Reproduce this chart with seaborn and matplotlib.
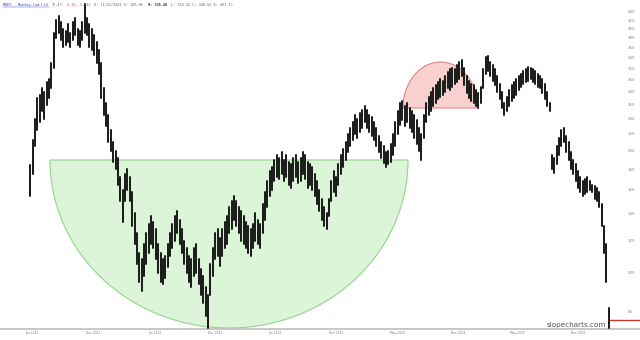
import numpy as np
import pandas as pd
import matplotlib
matplotlib.use("Agg")
import matplotlib.pyplot as plt
import matplotlib.ticker as mticker
from matplotlib.patches import Polygon
import seaborn as sns

# ---------------- data (weekly bars) ----------------
start_date = "2021-06-11"
lows = [155, 175, 205, 225, 235, 250, 240, 260, 270, 285,
        320, 380, 390, 375, 360, 365, 370, 360, 375, 385,
        365, 360, 375, 390, 385, 360, 355, 345, 330, 310,
        270, 245, 230, 210, 200, 188, 180, 165, 150, 133,
        150, 160, 150, 130, 118, 105, 95, 90, 98, 105,
        112, 118, 115, 108, 100, 95, 94, 97, 103, 110,
        115, 120, 125, 118, 112, 105, 100, 95, 92, 98,
        100, 94, 88, 84, 78, 73, 88, 98, 108, 110,
        104, 110, 115, 118, 125, 128, 135, 130, 125, 120,
        118, 115, 112, 110, 115, 120, 118, 115, 125, 135,
        145, 155, 160, 168, 172, 170, 175, 168, 172, 165,
        162, 168, 172, 166, 168, 175, 170, 162, 165, 160,
        155, 148, 142, 135, 130, 128, 138, 150, 158, 155,
        165, 175, 182, 190, 198, 205, 212, 220, 215, 222,
        228, 235, 228, 222, 218, 212, 205, 198, 192, 186,
        182, 185, 188, 195, 205, 220, 232, 238, 230, 235,
        228, 222, 215, 208, 200, 190, 215, 235, 245, 250,
        258, 262, 268, 272, 275, 280, 285, 282, 288, 292,
        295, 300, 305, 290, 278, 270, 265, 262, 258, 255,
        262, 285, 310, 315, 305, 298, 290, 280, 268, 255,
        245, 250, 258, 265, 270, 275, 282, 288, 292, 295,
        298, 300, 295, 292, 288, 285, 278, 268, 258, 250,
        180, 176, 185, 195, 205, 210, 198, 190, 180, 175,
        168, 162, 158, 155, 156, 158, 160, 158, 152, 150,
        145, 130, 112, 95, 73]
highs = [184, 212, 240, 270, 275, 285, 280, 295, 300, 330,
         390, 420, 430, 415, 400, 395, 410, 390, 415, 425,
         400, 395, 415, 460, 425, 410, 400, 385, 370, 355,
         330, 285, 262, 245, 225, 210, 200, 192, 172, 160,
         175, 180, 172, 158, 140, 125, 112, 108, 118, 125,
         132, 138, 133, 128, 118, 112, 108, 110, 118, 125,
         132, 138, 142, 135, 128, 120, 115, 110, 108, 115,
         118, 108, 102, 98, 92, 88, 105, 115, 125, 128,
         122, 128, 133, 138, 145, 150, 155, 150, 145, 142,
         138, 133, 130, 128, 132, 140, 135, 132, 148, 158,
         168, 178, 182, 190, 195, 192, 198, 190, 195, 188,
         185, 192, 195, 188, 192, 198, 195, 188, 185, 182,
         175, 168, 160, 152, 145, 140, 152, 168, 178, 172,
         185, 195, 202, 210, 220, 228, 235, 245, 240, 248,
         252, 258, 252, 245, 242, 235, 228, 218, 210, 205,
         198, 200, 208, 220, 235, 250, 262, 266, 258, 262,
         255, 250, 245, 238, 228, 220, 245, 262, 272, 280,
         285, 290, 295, 300, 298, 305, 312, 318, 320, 318,
         325, 332, 335, 320, 305, 298, 292, 290, 282, 278,
         288, 318, 340, 342, 332, 325, 318, 305, 292, 280,
         262, 272, 282, 290, 295, 300, 305, 310, 315, 318,
         322, 320, 318, 315, 310, 305, 300, 292, 280, 262,
         195, 192, 205, 215, 225, 228, 218, 210, 198, 190,
         185, 178, 172, 168, 170, 172, 168, 165, 164, 162,
         158, 148, 130, 118, 82]
last_price = 76.5
y_ticks = [80, 100, 120, 140, 160, 180, 200, 220, 240, 260, 280, 300,
           320, 340, 360, 380, 400, 420, 440]
x_tick_dates = ["2021-06-17", "2021-12-15", "2022-06-13", "2022-12-08",
                "2023-06-02", "2023-12-01", "2024-05-30", "2024-11-26",
                "2025-05-19", "2025-11-16"]
x_tick_labels = ["Jun 2021", "Dec 2021", "Jun 2022", "Dec 2022", "Jun 2023",
                 "Dec 2023", "May 2024", "Nov 2024", "May 2025", "Nov 2025"]

# ---------------- styling ----------------
sns.set_theme(style="white")
plt.rcParams["font.family"] = ["DejaVu Sans"]

W, H = 640, 340
fig = plt.figure(figsize=(W / 100, H / 100), dpi=100)
ax_bottom_px = 329
ax = fig.add_axes([0, (H - ax_bottom_px) / H, 1, ax_bottom_px / H])

dates = pd.date_range(start_date, periods=len(lows), freq="7D")
n = len(lows)
df = pd.DataFrame({
    "date": np.repeat(dates.values, 2),
    "price": np.ravel(np.column_stack([lows, highs])),
    "bar": np.repeat(np.arange(n), 2),
})

ax.set_yscale("log")
ax.set_xlim(pd.Timestamp("2021-03-14"), pd.Timestamp("2026-05-16"))
ax.set_ylim(72.6, 471)


# half-ellipses (annotations, placed in axes coordinates from pixel geometry)
def half_ellipse(cx, cy, rx, ry, dome):
    t = np.linspace(0, np.pi, 140)
    sign = -1 if dome else 1
    px = cx + rx * np.cos(t)
    py = cy + sign * ry * np.sin(t)
    return np.column_stack([px / W, (ax_bottom_px - py) / ax_bottom_px])


# green bowl: chord y=160, x 50..408, bottom y~328
ax.add_patch(Polygon(half_ellipse(229, 160, 179, 168, dome=False), closed=True,
                     transform=ax.transAxes, facecolor="#dcf5d8",
                     edgecolor="#92d58c", lw=0.8, zorder=1))
# red dome: chord y=108, x 403..478, top y~62
ax.add_patch(Polygon(half_ellipse(440.5, 108, 37.5, 46, dome=True), closed=True,
                     transform=ax.transAxes, facecolor="#f9d0d0",
                     edgecolor="#e08585", lw=0.8, zorder=1))

sns.lineplot(data=df, x="date", y="price", units="bar", estimator=None,
             color="#1c1f1c", linewidth=1.45, ax=ax, legend=False, zorder=3)

# last price marker
ax.plot([dates[-1], pd.Timestamp("2026-05-16")], [last_price, last_price],
        color="#c0392b", lw=1.0, zorder=4, solid_capstyle="butt")

# axes cosmetics
for s in ["left", "right", "top"]:
    ax.spines[s].set_visible(False)
ax.spines["bottom"].set_color("#bdbdbd")
ax.spines["bottom"].set_linewidth(1.2)
ax.grid(False)
ax.set_xlabel("")
ax.set_ylabel("")

ax.yaxis.set_major_locator(mticker.FixedLocator(y_ticks))
ax.yaxis.set_major_formatter(mticker.FixedFormatter([str(v) for v in y_ticks]))
ax.yaxis.set_minor_locator(mticker.NullLocator())
ax.yaxis.set_minor_formatter(mticker.NullFormatter())
ax.tick_params(axis="y", which="both", left=False, right=False, length=0,
               labelleft=False, labelright=True, pad=-9.0, labelsize=2.8,
               labelcolor="#8a8a8a")

ax.set_xticks(pd.to_datetime(x_tick_dates))
ax.set_xticklabels(x_tick_labels)
ax.tick_params(axis="x", which="both", bottom=False, top=False, length=0,
               pad=1.6, labelsize=2.2, labelcolor="#6d72b0")

# header
hy = 1 - 5 / H
mono = "DejaVu Sans Mono"
hs = 2.6
fig.text(3 / W, hy, "MNDY - Monday.Com Ltd", fontsize=hs, family=mono,
         color="#3b4bc8", va="center", ha="left")
fig.add_artist(plt.Line2D([3 / W, 49 / W], [1 - 7.2 / H, 1 - 7.2 / H],
                          color="#3b4bc8", lw=0.3))
fig.text(52 / W, hy, "75.43", fontsize=hs, family=mono, color="#666666",
         va="center", ha="left")
fig.text(65 / W, hy, "-1.32 -1.73%", fontsize=hs, family=mono, color="#d03030",
         va="center", ha="left")
fig.text(94 / W, hy, "D: 11/21/2021 O: 106.86", fontsize=hs, family=mono,
         color="#666666", va="center", ha="left")
fig.text(148 / W, hy, "H: 345.48", fontsize=hs, family=mono, color="#333333",
         va="center", ha="left", weight="bold")
fig.text(171 / W, hy, "L: 333.32 C: 340.66 V: 461.7%", fontsize=hs, family=mono,
         color="#666666", va="center", ha="left")

# watermark
fig.text(606 / W, 1 - 325 / H, "slopecharts.com", fontsize=5.2, color="#555555",
         ha="right", va="center")

fig.savefig("out.png", dpi=100)
